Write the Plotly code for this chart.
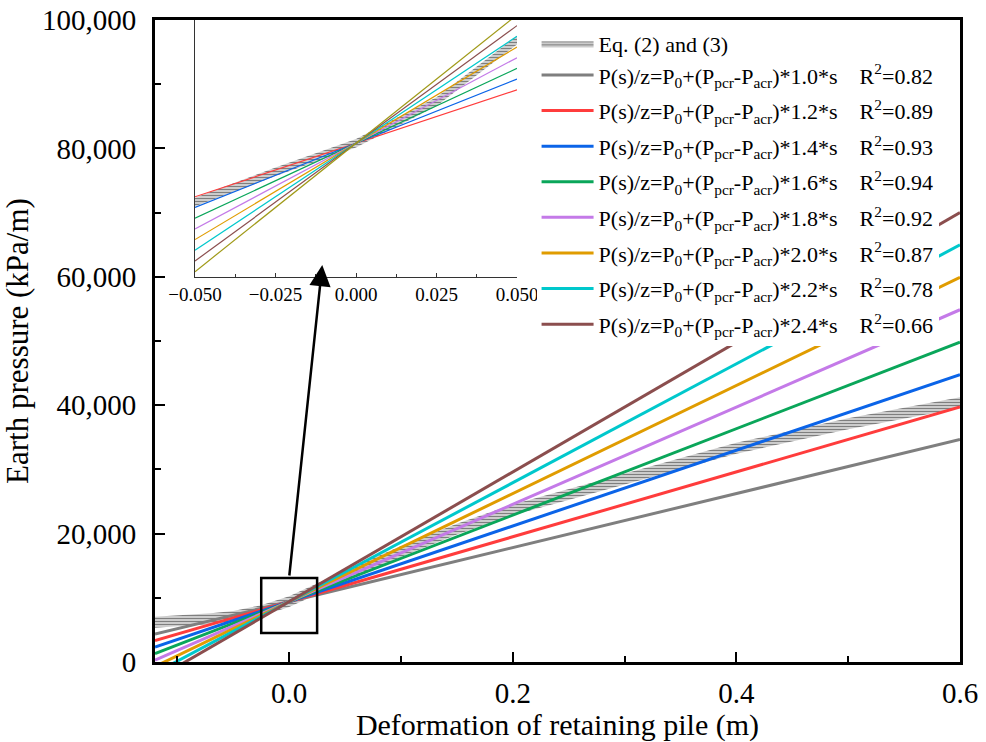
import plotly.graph_objects as go

# Linear models  P(s)/z = P0 + (Ppcr - Pacr) * m * s
P0 = 9400.0
dP = 42100.0
multipliers = [1.0, 1.2, 1.4, 1.6, 1.8, 2.0, 2.2, 2.4]
r_squared = [0.82, 0.89, 0.93, 0.94, 0.92, 0.87, 0.78, 0.66]
line_colors = ["#7f7f7f", "#ff3c3c", "#0b64e8", "#0aa65a",
               "#c47ae8", "#e09c00", "#00c8cc", "#8b4e4e"]
inset_colors = ["#ff3c3c", "#0b64e8", "#0aa65a", "#c47ae8",
                "#e09c00", "#00c8cc", "#8b4e4e", "#a09a18"]

s_main = [-0.12, 0.6]
s_inset = [-0.05, 0.05]

# Eq. (2) and (3) envelope
band_s = [-0.12, -0.09, -0.07, -0.05, -0.025, 0.0, 0.025, 0.05,
          0.1, 0.15, 0.2, 0.3, 0.4, 0.5, 0.6]
band_upper = [7050, 7350, 7600, 7950, 8850, 10250, 12250, 14250,
              18050, 21550, 24550, 29350, 34150, 37950, 41250]
band_lower = [5350, 5650, 5900, 6250, 7150, 8550, 10550, 12550,
              16350, 19850, 22850, 27650, 32450, 36250, 39550]

inset_band_s = [-0.05, -0.025, 0.0, 0.025, 0.05]
inset_band_upper = [7260, 8450, 9570, 11210, 13630]
inset_band_lower = [6920, 8110, 9230, 10870, 13290]

x_ticks_inset = [-0.05, -0.025, 0.0, 0.025, 0.05]

FONT = "Liberation Serif, Times New Roman, serif"
NB = "\u00a0"

hatch = dict(shape="-", size=3, solidity=0.6, fgcolor="#000000", bgcolor="white")

fig = go.Figure()

# envelope band (main)
fig.add_trace(go.Scatter(
    x=band_s + band_s[::-1], y=band_upper + band_lower[::-1],
    fill="toself", mode="lines", line=dict(width=0, color="#303030"),
    fillcolor="rgba(0,0,0,0)", fillpattern=hatch,
    name="Eq. (2) and (3)", legendgroup="g0",
    xaxis="x", yaxis="y", hoverinfo="skip"))

for i, (m, r2, c) in enumerate(zip(multipliers, r_squared, line_colors)):
    label = (f"P(s)/z=P<sub>0</sub>+(P<sub>pcr</sub>-P<sub>acr</sub>)*{m:.1f}*s"
             + NB * 4 + f"R<sup>2</sup>={r2:.2f}")
    fig.add_trace(go.Scatter(
        x=s_main, y=[P0 + dP * m * s for s in s_main],
        mode="lines", line=dict(color=c, width=3),
        name=label, legendgroup="g0" if i == 0 else f"g{i}",
        xaxis="x", yaxis="y"))

# inset: envelope band and model lines near the origin
fig.add_trace(go.Scatter(
    x=inset_band_s + inset_band_s[::-1],
    y=inset_band_upper + inset_band_lower[::-1],
    fill="toself", mode="lines", line=dict(width=0, color="#303030"),
    fillcolor="rgba(0,0,0,0)", fillpattern=hatch,
    showlegend=False, xaxis="x2", yaxis="y2", hoverinfo="skip"))

for m, c in zip(multipliers, inset_colors):
    fig.add_trace(go.Scatter(
        x=s_inset, y=[P0 + dP * m * s for s in s_inset],
        mode="lines", line=dict(color=c, width=1.2),
        showlegend=False, xaxis="x2", yaxis="y2"))

axis_common = dict(showgrid=False, zeroline=False, showline=True,
                   linecolor="black", linewidth=3, mirror=True,
                   automargin=False,
                   ticks="inside", ticklen=10, tickwidth=2, tickcolor="black")

fig.update_layout(
    width=986, height=742,
    margin=dict(l=155, r=26, t=20, b=80),
    plot_bgcolor="white", paper_bgcolor="white",
    font=dict(family=FONT, size=29, color="black"),
    xaxis=dict(domain=[0, 1], range=[-0.12, 0.6], tick0=0, dtick=0.2,
               tickformat=".1f", ticklabelstandoff=3,
               minor=dict(tick0=0, dtick=0.1, ticks="inside", ticklen=6,
                          tickwidth=2, tickcolor="black"),
               title=dict(text="Deformation of retaining pile (m)",
                          font=dict(size=30), standoff=6),
               **axis_common),
    yaxis=dict(domain=[0, 1], range=[0, 100000], tick0=0, dtick=20000,
               tickformat=",d", ticklabelstandoff=10,
               minor=dict(tick0=0, dtick=10000, ticks="inside", ticklen=6,
                          tickwidth=2, tickcolor="black"),
               title=dict(text="Earth pressure (kPa/m)",
                          font=dict(size=31), standoff=12),
               **axis_common),
    xaxis2=dict(domain=[0.0497, 0.4497], anchor="y2", range=[-0.05, 0.05],
                tickvals=x_ticks_inset, tickformat=".3f",
                tickfont=dict(size=19), automargin=False,
                showgrid=False, zeroline=False, showline=True,
                linecolor="#333333", linewidth=1,
                ticks="inside", ticklen=4, tickwidth=1, tickcolor="#333333",
                minor=dict(tickvals=[-0.0375, -0.0125, 0.0125, 0.0375],
                           ticks="inside", ticklen=3, tickwidth=1,
                           tickcolor="#333333")),
    yaxis2=dict(domain=[0.5997, 1.0], anchor="x2", range=[4139, 14252],
                automargin=False,
                showgrid=False, zeroline=False, showline=True,
                linecolor="#333333", linewidth=1,
                showticklabels=False, ticks=""),
    legend=dict(x=0.474, y=0.996, xanchor="left", yanchor="top",
                bgcolor="white", borderwidth=0, font=dict(size=22),
                itemwidth=52, tracegroupgap=4, traceorder="grouped"),
    showlegend=True,
)

# zoom window and pointer to the inset
fig.add_shape(type="rect", xref="x", yref="y",
              x0=-0.025, x1=0.025, y0=4500, y1=13100,
              line=dict(color="black", width=2.5))
fig.add_annotation(x=0.0296, y=61840, ax=0.0, ay=13240,
                   xref="x", yref="y", axref="x", ayref="y",
                   text="", showarrow=True, arrowhead=2, arrowsize=1.7,
                   arrowwidth=2.5, arrowcolor="black")

fig.write_html("out.html")
